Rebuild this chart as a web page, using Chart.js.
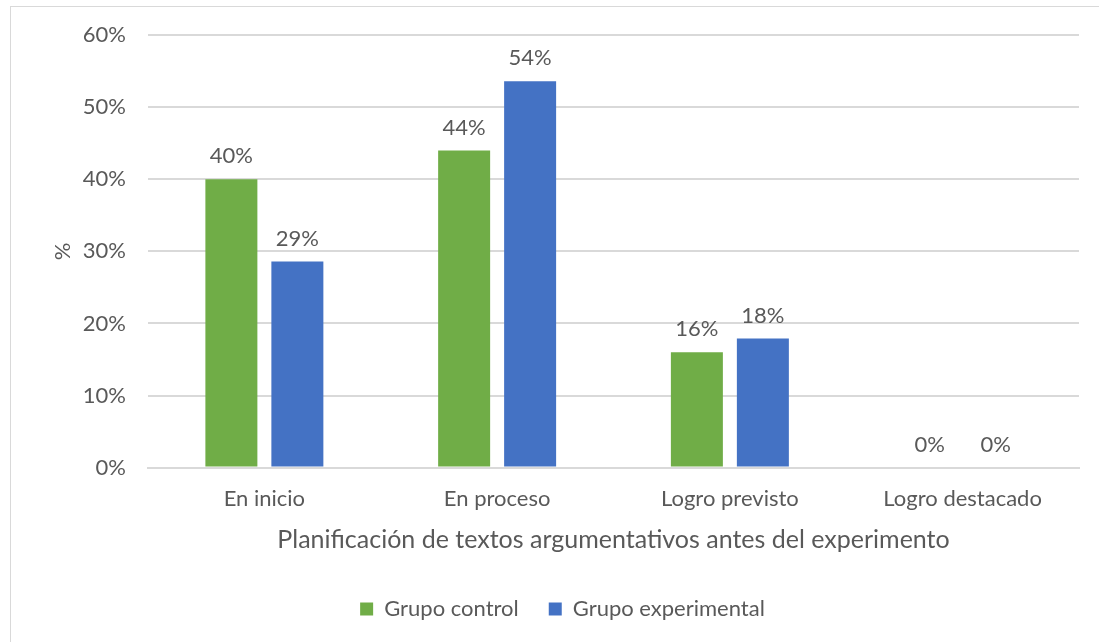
<!DOCTYPE html>
<html>
<head>
<meta charset="utf-8">
<script src="https://cdn.jsdelivr.net/npm/chart.js@4.4.1/dist/chart.umd.min.js"></script>
<style>
  html, body { margin: 0; padding: 0; background: #fff; overflow: hidden; }
  #marco { position: absolute; left: 10px; top: 6px; width: 1200px; height: 700px; border: 1px solid #d9d9d9; }
  #wrap { position: absolute; left: 0; top: 0; width: 1099px; height: 642px; }
</style>
</head>
<body>
<div id="marco"></div>
<div id="wrap"><canvas id="grafico"></canvas></div>
<script>
const categorias = ['En inicio', 'En proceso', 'Logro previsto', 'Logro destacado'];
const grupoControl = [40, 44, 16, 0];
const grupoExperimental = [28.6, 53.6, 17.9, 0];
const ticksY = [0, 10, 20, 30, 40, 50, 60];

const FUENTE = 'Lato, "Open Sans", sans-serif';
const GRIS = '#595959';

// Etiquetas de valor sobre cada barra
const etiquetasBarras = {
  id: 'etiquetasBarras',
  afterDatasetsDraw(chart) {
    const ctx = chart.ctx;
    ctx.save();
    ctx.font = `22px ${FUENTE}`;
    ctx.fillStyle = GRIS;
    ctx.textAlign = 'center';
    ctx.textBaseline = 'bottom';
    chart.data.datasets.forEach((ds, i) => {
      chart.getDatasetMeta(i).data.forEach((bar, j) => {
        ctx.fillText(Math.round(ds.data[j]) + '%', bar.x, bar.y - 12);
      });
    });
    ctx.restore();
  }
};

new Chart(document.getElementById('grafico'), {
  type: 'bar',
  data: {
    labels: categorias,
    datasets: [
      {
        label: 'Grupo control',
        data: grupoControl,
        backgroundColor: '#70ad47',
        categoryPercentage: 0.567,
        barPercentage: 0.788,
      },
      {
        label: 'Grupo experimental',
        data: grupoExperimental,
        backgroundColor: '#4472c4',
        categoryPercentage: 0.567,
        barPercentage: 0.788,
      }
    ]
  },
  options: {
    responsive: true,
    maintainAspectRatio: false,
    animation: false,
    layout: { padding: { left: 46, right: 20, top: 24, bottom: 12 } },
    plugins: {
      legend: {
        position: 'bottom',
        labels: {
          color: GRIS,
          font: { family: FUENTE, size: 22 },
          boxWidth: 13,
          boxHeight: 13,
          padding: 30,
        }
      },
      tooltip: { enabled: false }
    },
    scales: {
      x: {
        grid: { display: false },
        border: { color: '#d9d9d9', width: 2 },
        ticks: { color: GRIS, font: { family: FUENTE, size: 22 }, padding: 10 },
        title: {
          display: true,
          text: 'Planificación de textos argumentativos antes del experimento',
          color: GRIS,
          font: { family: FUENTE, size: 25 },
          padding: { top: 3, bottom: 13 }
        }
      },
      y: {
        min: 0,
        max: 60,
        afterBuildTicks: axis => { axis.ticks = ticksY.map(v => ({ value: v })); },
        afterFit: axis => { axis.width = 102; },
        grid: { color: '#d9d9d9', lineWidth: 2, drawTicks: false },
        border: { display: false },
        ticks: {
          color: GRIS,
          font: { family: FUENTE, size: 22 },
          padding: 22,
          callback: v => v + '%'
        },
        title: {
          display: true,
          text: '%',
          color: GRIS,
          font: { family: FUENTE, size: 22 },
          padding: { top: 4, bottom: 0 }
        }
      }
    }
  },
  plugins: [etiquetasBarras]
});
</script>
</body>
</html>
